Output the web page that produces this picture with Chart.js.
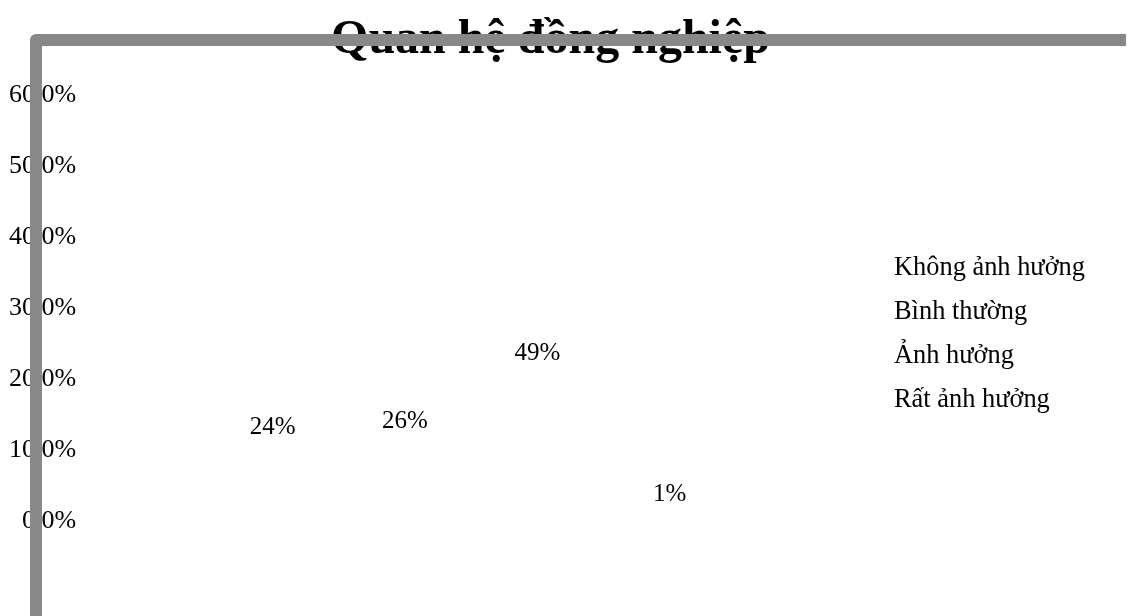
<!DOCTYPE html>
<html>
<head>
<meta charset="utf-8">
<title>Quan hệ đồng nghiệp</title>
<script src="https://cdn.jsdelivr.net/npm/chart.js@4.4.0/dist/chart.umd.min.js"></script>
<style>
  html, body { margin: 0; padding: 0; background: #fff; }
  #khung-bieu-do { width: 1132px; height: 616px; }
</style>
</head>
<body>
<div id="khung-bieu-do"><canvas id="bieu-do"></canvas></div>
<script>
// Các nhóm trả lời (chú thích)
const series = ['Không ảnh hưởng', 'Bình thường', 'Ảnh hưởng', 'Rất ảnh hưởng'];
// Tỉ lệ từng nhóm (%)
const values = [24, 26, 49, 1];
// Vạch chia trục tung (%)
const yTicks = [0, 10, 20, 30, 40, 50, 60];
const categories = [''];

const serif = "'Times New Roman', 'Liberation Serif', serif";

// Nhãn phần trăm trên đầu mỗi cột
const valueLabels = {
    id: 'valueLabels',
    afterDatasetsDraw(chart) {
        const ctx = chart.ctx;
        ctx.save();
        ctx.fillStyle = '#000';
        ctx.font = '25px ' + serif;
        ctx.textAlign = 'center';
        ctx.textBaseline = 'middle';
        chart.data.datasets.forEach((ds, i) => {
            chart.getDatasetMeta(i).data.forEach((bar, j) => {
                ctx.fillText(ds.data[j] + '%', bar.x, bar.y);
            });
        });
        ctx.restore();
    }
};

// Viền xám dày bao quanh biểu đồ
const frame = {
    id: 'frame',
    afterDraw(chart) {
        const ctx = chart.ctx;
        ctx.save();
        ctx.strokeStyle = '#888888';
        ctx.lineWidth = 12;
        ctx.lineJoin = 'round';
        ctx.beginPath();
        ctx.moveTo(36, chart.height + 10);
        ctx.lineTo(36, 40);
        ctx.lineTo(1126, 40);
        ctx.stroke();
        ctx.restore();
    }
};

const ctx = document.getElementById('bieu-do').getContext('2d');

new Chart(ctx, {
    type: 'bar',
    data: {
        labels: categories,
        datasets: series.map((name, i) => ({
            label: name,
            data: [values[i]],
            yAxisID: 'yBars',
            backgroundColor: 'rgba(0,0,0,0)',
            borderWidth: 0
        }))
    },
    options: {
        responsive: true,
        maintainAspectRatio: false,
        animation: false,
        layout: {
            padding: { left: 6, right: 37, top: 0, bottom: 95 }
        },
        datasets: {
            bar: { categoryPercentage: 0.675, barPercentage: 0.9 }
        },
        plugins: {
            title: {
                display: true,
                text: 'Quan hệ đồng nghiệp',
                color: '#000',
                font: { family: serif, size: 48, weight: 'bold' },
                padding: { top: 12, bottom: 25.4 }
            },
            legend: {
                position: 'right',
                fullSize: false,
                title: { display: true, text: '', padding: { top: 38.5, bottom: 0 } },
                labels: {
                    boxWidth: 0,
                    padding: 17.6,
                    color: '#000',
                    font: { family: serif, size: 26.4 }
                }
            },
            tooltip: { enabled: false }
        },
        scales: {
            x: { display: false },
            y: {
                min: 0,
                max: 60,
                afterBuildTicks: (scale) => {
                    scale.ticks = yTicks.map(v => ({ value: v }));
                },
                ticks: {
                    color: '#000',
                    padding: 3,
                    font: { family: serif, size: 26 },
                    callback: (v) => v.toFixed(1) + '%'
                },
                grid: { display: false, drawTicks: false },
                border: { display: false }
            },
            // thang ẩn để đặt các cột (và nhãn của chúng)
            yBars: { display: false, min: -8, max: 137 }
        }
    },
    plugins: [valueLabels, frame]
});
</script>
</body>
</html>
